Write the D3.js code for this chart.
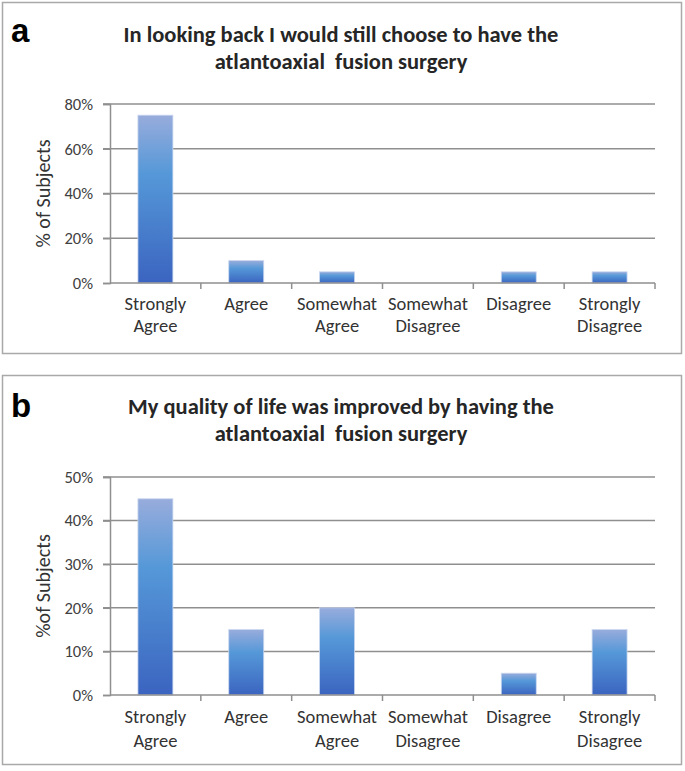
<!DOCTYPE html>
<html><head><meta charset="utf-8">
<script src="https://cdn.jsdelivr.net/npm/d3@7"></script>
<style>
html,body{margin:0;padding:0;background:#fff;}
svg{display:block;}
</style></head>
<body>
<svg id="chart" width="685" height="771"></svg>
<script>
const categories = [["Strongly","Agree"],["Agree"],["Somewhat","Agree"],["Somewhat","Disagree"],["Disagree"],["Strongly","Disagree"]];
const valuesA = [75, 10, 5, 0, 5, 5];
const valuesB = [45, 15, 20, 0, 5, 15];
const ticksA = [0, 20, 40, 60, 80];
const ticksB = [0, 10, 20, 30, 40, 50];
const titleA = ["In looking back I would still choose to have the", "atlantoaxial  fusion surgery"];
const titleB = ["My quality of life was improved by having the", "atlantoaxial  fusion surgery"];

const svg = d3.select("#chart");
const defs = svg.append("defs");
const grad = defs.append("linearGradient").attr("id","barGrad").attr("x1",0).attr("y1",0).attr("x2",0).attr("y2",1);
grad.append("stop").attr("offset","0%").attr("stop-color","#98acdc");
grad.append("stop").attr("offset","35%").attr("stop-color","#5598d8");
grad.append("stop").attr("offset","100%").attr("stop-color","#3b64c0");

const font = "Carlito, Lato, 'Open Sans', sans-serif";

function panel(cfg){
  const g = svg.append("g");
  g.append("rect").attr("x",cfg.box[0]+0.5).attr("y",cfg.box[1]+0.5)
    .attr("width",cfg.box[2]).attr("height",cfg.box[3])
    .attr("fill","#fff").attr("stroke","#a9a9a9").attr("stroke-width",1.5);
  g.append("text").attr("x",11).attr("y",cfg.letterY).text(cfg.letter)
    .attr("font-family","Arial, 'Liberation Sans', sans-serif").attr("font-weight","bold")
    .attr("font-size",33).attr("fill","#000");
  cfg.title.forEach((t,i)=>{
    g.append("text").attr("x",341).attr("y",cfg.titleY + i*27).attr("text-anchor","middle")
      .style("white-space","pre")
      .attr("font-family",font).attr("font-weight","bold").attr("font-size",22.5)
      .attr("fill","#262626").text(t);
  });
  const x = d3.scaleBand().domain(d3.range(categories.length)).range([110,655])
    .paddingInner(0.615).paddingOuter(0.3075);
  const y = d3.scaleLinear().domain([0, cfg.max]).range([cfg.y0, cfg.y1]);
  // gridlines
  g.append("g").selectAll("line").data(cfg.ticks.filter(d=>d>0)).join("line")
    .attr("x1",103).attr("x2",655).attr("y1",d=>y(d)).attr("y2",d=>y(d))
    .attr("stroke","#8f8f8f").attr("stroke-width",1.5);
  // y axis
  const ya = d3.axisLeft(y).tickValues(cfg.ticks).tickFormat(d=>d+"%").tickSize(7).tickPadding(10);
  const yg = g.append("g").attr("transform","translate(110,0)").call(ya);
  yg.select(".domain").attr("stroke","#8f8f8f").attr("stroke-width",1.5);
  yg.selectAll(".tick line").attr("stroke","#8f8f8f").attr("stroke-width",1.5);
  yg.selectAll(".tick text").attr("font-family",font).attr("font-size",16.5).attr("fill","#404040");
  // bars
  g.append("g").selectAll("rect").data(cfg.values).join("rect")
    .attr("x",(d,i)=>x(i)).attr("width",x.bandwidth())
    .attr("y",d=>y(d)).attr("height",d=>cfg.y0-y(d))
    .attr("fill","url(#barGrad)").attr("stroke","#c9d6ef").attr("stroke-width",0.8);
  // x axis
  const step = x.step();
  g.append("line").attr("x1",110).attr("x2",655).attr("y1",cfg.y0).attr("y2",cfg.y0)
    .attr("stroke","#8f8f8f").attr("stroke-width",1.5);
  g.append("g").selectAll("line").data(d3.range(1,categories.length+1)).join("line")
    .attr("x1",d=>110+d*step).attr("x2",d=>110+d*step)
    .attr("y1",cfg.y0).attr("y2",cfg.y0+6).attr("stroke","#8f8f8f").attr("stroke-width",1.5);
  const lab = g.append("g").selectAll("text").data(categories).join("text")
    .attr("x",(d,i)=>x(i)+x.bandwidth()/2).attr("y",cfg.y0+cfg.labOff)
    .attr("text-anchor","middle").attr("font-family",font).attr("font-size",18.5).attr("fill","#333");
  lab.each(function(d){
    d3.select(this).selectAll("tspan").data(d).join("tspan")
      .attr("x",d3.select(this).attr("x")).attr("dy",(t,j)=>j===0?0:cfg.labGap).text(t=>t);
  });
  g.append("text").attr("transform",`translate(${cfg.ytX},${(cfg.y0+cfg.y1)/2}) rotate(-90)`)
    .attr("text-anchor","middle").attr("font-family",font).attr("font-size",20).attr("fill","#333")
    .text(cfg.ytitle);
}

panel({box:[2,2,679,351], letter:"a", letterY:42, title:titleA, titleY:42,
  values:valuesA, ticks:ticksA, max:80, y0:283, y1:104, ytX:50, ytitle:"% of Subjects", labOff:27, labGap:22});
panel({box:[2,375,679,389], letter:"b", letterY:417, title:titleB, titleY:414,
  values:valuesB, ticks:ticksB, max:50, y0:695, y1:477, ytX:50, ytitle:"%of Subjects", labOff:28, labGap:24});
</script>
</body></html>
